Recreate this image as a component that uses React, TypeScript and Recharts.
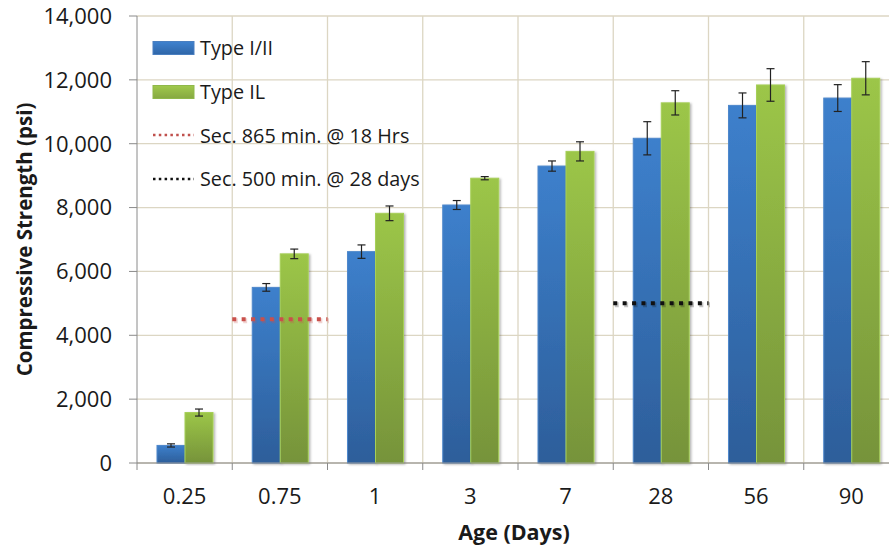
import React from 'react';
import { BarChart, Bar, XAxis, YAxis, CartesianGrid, ErrorBar, ReferenceArea, Legend } from 'recharts';

// Age at test (days)
const ages = ['0.25', '0.75', '1', '3', '7', '28', '56', '90'];

// Mean compressive strength (psi) and +/- error
const typeI_II = [550, 5500, 6620, 8080, 9300, 10170, 11200, 11430];
const typeI_IIErr = [50, 120, 210, 140, 160, 520, 390, 420];
const typeIL = [1580, 6550, 7820, 8920, 9760, 11280, 11840, 12050];
const typeILErr = [110, 150, 230, 50, 300, 380, 510, 520];

// Specification minimums
const sec865Min = 4500; // @ 18 hrs
const sec500Min = 5000; // @ 28 days

const yTicks = [0, 2000, 4000, 6000, 8000, 10000, 12000, 14000];

const data = ages.map((age, i) => ({
    age,
    typeI_II: typeI_II[i],
    typeI_IIErr: typeI_IIErr[i],
    typeIL: typeIL[i],
    typeILErr: typeILErr[i],
}));

const FONT = '"Open Sans", sans-serif';
const GRID = '#dcd6c3';
const AXIS = '#8a8a8a';
const TEXT = '#1a1a1a';

const fmt = (v: number) => v.toLocaleString('en-US');

const BarShape = (props: any) => {
    const { x, y, width, height, fill, edge } = props;
    if (!height) return null;
    return (
        <rect
            x={x}
            y={y}
            width={width}
            height={height}
            fill={fill}
            stroke={edge}
            strokeWidth={1}
            filter="url(#barShadow)"
        />
    );
};

const AgeTick = (props: any) => {
    const { x, y, payload, index, width, visibleTicksCount } = props;
    const band = width / visibleTicksCount;
    return (
        <g>
            <line x1={x - band / 2} x2={x - band / 2} y1={y} y2={y + 7} stroke={AXIS} />
            {index === visibleTicksCount - 1 && (
                <line x1={x + band / 2} x2={x + band / 2} y1={y} y2={y + 7} stroke={AXIS} />
            )}
            <text x={x} y={y + 41} textAnchor="middle" fontFamily={FONT} fontSize={22} fill={TEXT}>
                {payload.value}
            </text>
        </g>
    );
};

const legendItems = [
    { label: 'Type I/II', kind: 'bar', color: 'url(#gradBlueH)', edge: '#4a7fc0' },
    { label: 'Type IL', kind: 'bar', color: 'url(#gradGreenH)', edge: '#8fb84a' },
    { label: 'Sec. 865 min. @ 18 Hrs', kind: 'dots', color: '#c0504d' },
    { label: 'Sec. 500 min. @ 28 days', kind: 'dots', color: '#111111' },
];

const renderLegend = () => (
    <div style={{ fontFamily: FONT, fontSize: 19.8, color: TEXT }}>
        {legendItems.map((item) => (
            <div key={item.label} style={{ display: 'flex', alignItems: 'center', height: 43.7 }}>
                <svg width={46} height={16} style={{ marginRight: 2 }}>
                    {item.kind === 'bar' ? (
                        <rect x={1} y={1.5} width={41} height={13} fill={item.color} stroke={item.edge} />
                    ) : (
                        <line x1={1} x2={42} y1={8} y2={8} stroke={item.color} strokeWidth={2.5} strokeDasharray="2.5 3.3" />
                    )}
                </svg>
                <span>{item.label}</span>
            </div>
        ))}
    </div>
);

// dotted minimum-strength marker spanning one age band
const minLine = (color: string) => (props: any) => {
    const { x, y, width } = props;
    return (
        <g>
            <line x1={x + 1.5} x2={x + width + 1.5} y1={y + 1.5} y2={y + 1.5} stroke={color} strokeOpacity={0.25} strokeWidth={5} strokeDasharray="4 5.4" />
            <line x1={x} x2={x + width} y1={y} y2={y} stroke={color} strokeWidth={4} strokeDasharray="4 5.4" />
        </g>
    );
};

export default function App() {
    return (
        <div style={{ position: 'absolute', left: 0, top: 0, width: 889, height: 550, overflow: 'hidden', background: '#fff' }}>
            <BarChart
                width={905}
                height={550}
                data={data}
                margin={{ top: 16, right: 6, left: 0, bottom: 27 }}
                barCategoryGap="21%"
                barGap={0}
            >
                <defs>
                    <linearGradient id="gradBlue" x1="0" y1="0" x2="0" y2="1">
                        <stop offset="0%" stopColor="#3d80cc" />
                        <stop offset="100%" stopColor="#2d5e9a" />
                    </linearGradient>
                    <linearGradient id="gradGreen" x1="0" y1="0" x2="0" y2="1">
                        <stop offset="0%" stopColor="#9cc648" />
                        <stop offset="100%" stopColor="#76933a" />
                    </linearGradient>
                    <linearGradient id="gradBlueH" x1="0" y1="0" x2="0" y2="1">
                        <stop offset="0%" stopColor="#3f82cf" />
                        <stop offset="100%" stopColor="#2f66a8" />
                    </linearGradient>
                    <linearGradient id="gradGreenH" x1="0" y1="0" x2="0" y2="1">
                        <stop offset="0%" stopColor="#a0c94c" />
                        <stop offset="100%" stopColor="#86a842" />
                    </linearGradient>
                    <filter id="barShadow" x="-20%" y="-5%" width="140%" height="110%">
                        <feDropShadow dx={1.5} dy={1} stdDeviation={1.3} floodColor="#000" floodOpacity={0.3} />
                    </filter>
                </defs>
                <CartesianGrid
                    stroke={GRID}
                    strokeWidth={1.3}
                    verticalCoordinatesGenerator={({ offset }: any) =>
                        ages.map((_, i) => offset.left + (offset.width / ages.length) * i).slice(1)
                    }
                />
                <XAxis
                    dataKey="age"
                    height={60}
                    stroke={AXIS}
                    tickLine={false}
                    tickSize={0}
                    tickMargin={0}
                    interval={0}
                    tick={<AgeTick />}
                    label={({ viewBox }: any) => (
                        <text
                            x={viewBox.x + viewBox.width / 2 - 4}
                            y={viewBox.y + 77}
                            textAnchor="middle"
                            fontFamily={FONT}
                            fontSize={21.5}
                            fontWeight={700}
                            fill={TEXT}
                        >
                            Age (Days)
                        </text>
                    )}
                />
                <YAxis
                    width={137}
                    domain={[0, 14000]}
                    ticks={yTicks}
                    interval={0}
                    tickFormatter={fmt}
                    stroke={AXIS}
                    tickSize={8}
                    tickMargin={17}
                    tick={{ fontFamily: FONT, fontSize: 22, fill: TEXT }}
                    label={({ viewBox }: any) => (
                        <text
                            x={viewBox.x + 24}
                            y={viewBox.y + viewBox.height / 2}
                            transform={`rotate(-90 ${viewBox.x + 24} ${viewBox.y + viewBox.height / 2})`}
                            textAnchor="middle"
                            dominantBaseline="central"
                            fontFamily={FONT}
                            fontSize={20.5}
                            fontWeight={700}
                            fill={TEXT}
                        >
                            Compressive Strength (psi)
                        </text>
                    )}
                />
                <Legend
                    layout="vertical"
                    align="center"
                    verticalAlign="middle"
                    content={renderLegend}
                    wrapperStyle={{ left: 152, top: 26, width: 320 }}
                />
                <Bar dataKey="typeI_II" fill="url(#gradBlue)" shape={<BarShape edge="#4f88cc" />} isAnimationActive={false}>
                    <ErrorBar dataKey="typeI_IIErr" width={4} stroke="#222" strokeWidth={1.2} />
                </Bar>
                <Bar dataKey="typeIL" fill="url(#gradGreen)" shape={<BarShape edge="#a6cf58" />} isAnimationActive={false}>
                    <ErrorBar dataKey="typeILErr" width={4} stroke="#222" strokeWidth={1.2} />
                </Bar>
                <ReferenceArea
                    {...({ isFront: true, zIndex: 1000 } as any)}
                    x1="0.75"
                    x2="0.75"
                    y1={sec865Min}
                    y2={sec865Min}
                    shape={minLine('#c9504b')}
                />
                <ReferenceArea
                    {...({ isFront: true, zIndex: 1000 } as any)}
                    x1="28"
                    x2="28"
                    y1={sec500Min}
                    y2={sec500Min}
                    shape={minLine('#111111')}
                />
            </BarChart>
        </div>
    );
}
